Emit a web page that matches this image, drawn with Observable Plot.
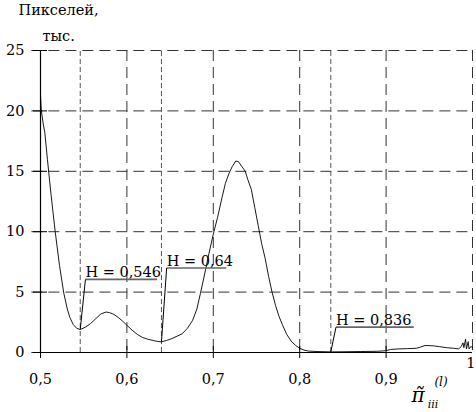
<!DOCTYPE html>
<html><head><meta charset="utf-8">
<script src="https://cdn.jsdelivr.net/npm/d3@7"></script>
<script src="https://cdn.jsdelivr.net/npm/@observablehq/plot@0.6"></script>
<style>body{margin:0;background:#fff} svg text, svg{font-family:"DejaVu Serif",serif !important}</style>
</head><body><div id="chart"></div>
<script>
const xs = [0.500,0.501,0.503,0.505,0.508,0.512,0.517,0.522,0.527,0.531,0.534,0.538,0.542,0.546,0.552,0.558,0.564,0.570,0.576,0.580,0.585,0.590,0.595,0.600,0.606,0.612,0.618,0.624,0.630,0.635,0.640,0.646,0.652,0.658,0.664,0.670,0.676,0.681,0.685,0.690,0.695,0.700,0.705,0.710,0.714,0.718,0.722,0.726,0.729,0.733,0.737,0.740,0.744,0.748,0.752,0.756,0.760,0.764,0.768,0.772,0.776,0.780,0.785,0.790,0.795,0.800,0.805,0.810,0.820,0.836,0.850,0.870,0.890,0.900,0.905,0.915,0.925,0.935,0.940,0.945,0.955,0.962,0.970,0.978,0.984,0.987,0.989,0.990,0.992,0.993,0.995,0.996,0.998,1.000];
const ys = [21.3,20.0,19.0,18.2,16.0,13.2,10.0,7.2,4.9,3.6,2.9,2.3,2.0,1.9,2.1,2.4,2.8,3.2,3.35,3.3,3.15,2.9,2.6,2.25,1.85,1.5,1.25,1.1,1.0,0.92,0.88,1.0,1.15,1.35,1.55,2.0,2.65,3.6,4.86,6.5,8.2,9.8,11.2,12.8,14.0,14.8,15.4,15.85,15.8,15.4,15.0,14.3,13.5,12.0,10.5,9.0,7.8,6.3,5.0,3.9,3.0,2.3,1.5,0.95,0.6,0.35,0.2,0.12,0.08,0.05,0.06,0.08,0.1,0.15,0.25,0.3,0.32,0.35,0.45,0.58,0.55,0.48,0.4,0.35,0.3,0.5,0.8,0.4,1.1,0.3,0.9,0.3,0.5,0.4];
const xTicks = [0.5, 0.6, 0.7, 0.8, 0.9, 1];
const yTicks = [0, 5, 10, 15, 20, 25];
const hValues = [0.546, 0.64, 0.836];
const hMinY = [1.9, 0.88, 0.05];
const hLabelY = [6.05, 7.0, 2.1];
const hLabelEnd = [0.635, 0.715, 0.932];
const hLabels = ["H = 0,546", "H = 0,64", "H = 0,836"];
const yTitle = ["Пикселей,", "тыс."];

const curve = xs.map((x, i) => ({x, y: ys[i]}));
const ann = hValues.map((h, i) => ({h, ymin: hMinY[i], lx: h + 0.006, ly: hLabelY[i], lend: hLabelEnd[i], label: hLabels[i]}));
const fmt = d => String(d).replace(".", ",");
const font = "DejaVu Serif";
const fs = 14.5;

const plot = Plot.plot({
  width: 476, height: 412,
  marginLeft: 40, marginRight: 4, marginTop: 50, marginBottom: 60,
  style: {fontFamily: font, fontSize: fs + "px", background: "#fff", color: "#000"},
  x: {domain: [0.5, 1]},
  y: {domain: [0, 25]},
  marks: [
    Plot.gridX(xTicks, {stroke: "#333", strokeOpacity: 1, strokeDasharray: "11,6"}),
    Plot.gridY(yTicks, {stroke: "#333", strokeOpacity: 1, strokeDasharray: "11,6", x1: 0.49, x2: 1}),
    Plot.ruleX(hValues, {stroke: "#555", strokeDasharray: "5,3", y1: 0, y2: 25}),
    Plot.ruleX([0.5], {stroke: "#000", strokeWidth: 1.2}),
    Plot.ruleY([0], {stroke: "#000", strokeWidth: 1.2}),
    Plot.axisX(xTicks.slice(0, -1), {tickSize: 12, dy: -6, tickPadding: 15, tickFormat: fmt, label: null, fontSize: fs, fontFamily: font}),
    Plot.axisY(yTicks, {tickSize: 14, dx: 7, tickPadding: 9, label: null, fontSize: fs, fontFamily: font}),
    Plot.text([1], {x: d => d, frameAnchor: "bottom", dy: 15, dx: 3, textAnchor: "end", text: d => fmt(d), fontSize: fs, fontFamily: font}),
    Plot.line(curve, {x: "x", y: "y", stroke: "#000", strokeWidth: 0.9}),
    Plot.link(ann, {x1: "lx", y1: "ly", x2: "lend", y2: "ly", stroke: "#666", strokeWidth: 1.6}),
    Plot.link(ann, {x1: "lx", y1: "ly", x2: "h", y2: "ymin", stroke: "#000", strokeWidth: 1}),
    Plot.text(ann, {x: "lx", y: "ly", text: "label", textAnchor: "start", lineAnchor: "bottom", dy: -2, fontSize: fs, fontFamily: font}),
    Plot.text([yTitle[0]], {frameAnchor: "top-left", dx: -22, dy: -46, text: d => d, textAnchor: "start", lineAnchor: "top", fontSize: fs, fontFamily: font}),
    Plot.text([yTitle[1]], {frameAnchor: "top-left", dx: 2, dy: -20, text: d => d, textAnchor: "start", lineAnchor: "top", fontSize: fs, fontFamily: font})
  ]
});

// x-axis symbol with sub/superscripts
const sx = plot.scale("x").apply(1);
const svg = d3.select(plot);
const g = svg.append("g").attr("font-family", font).attr("font-style", "italic");
g.append("text").attr("x", sx - 54).attr("y", 402).attr("font-size", 20).text("π\u0303");
g.append("text").attr("x", sx - 31).attr("y", 386).attr("font-size", 12).text("(l)");
g.append("text").attr("x", sx - 39).attr("y", 408).attr("font-size", 11).text("iii");

document.getElementById("chart").append(plot);
</script>
</body></html>
